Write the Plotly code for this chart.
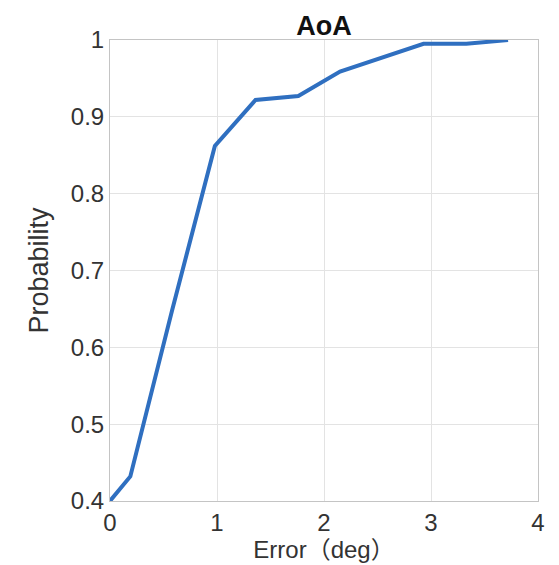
import plotly.graph_objects as go

error_deg = [0.0, 0.19, 0.58, 0.98, 1.36, 1.76, 2.15, 2.54, 2.93, 3.33, 3.72]
probability = [0.40, 0.432, 0.648, 0.862, 0.922, 0.927, 0.959, 0.977, 0.995, 0.995, 1.0]

x_ticks = [0, 1, 2, 3, 4]
y_ticks = [0.4, 0.5, 0.6, 0.7, 0.8, 0.9, 1.0]
y_tick_text = ["0.4", "0.5", "0.6", "0.7", "0.8", "0.9", "1"]

FONT = "Liberation Sans, Arial, Helvetica, sans-serif"

fig = go.Figure()
fig.add_trace(go.Scatter(x=error_deg, y=probability, mode="lines",
                         line=dict(color="#2f6fc0", width=4), showlegend=False))

axis_common = dict(showgrid=True, gridcolor="#e3e3e3", gridwidth=1,
                   showline=True, linecolor="#c4c4c4", linewidth=1, mirror=True,
                   zeroline=False, ticks="",
                   tickfont=dict(size=24, color="#333333", family=FONT))

fig.update_layout(
    width=559, height=565,
    margin=dict(l=110, r=21, t=40, b=62),
    paper_bgcolor="white", plot_bgcolor="white",
    title=dict(text="<b>AoA</b>", x=0.5, xanchor="center", xref="paper",
               y=1, yref="paper", yanchor="bottom", pad=dict(b=5),
               font=dict(size=27, color="#111111", family=FONT)),
    xaxis=dict(range=[0, 4], tickvals=x_ticks, **axis_common,
               title=dict(text="Error（deg）", standoff=0,
                          font=dict(size=24, color="#333333",
                                    family="Liberation Sans, Noto Sans CJK SC, sans-serif"))),
    yaxis=dict(range=[0.4, 1.0], tickvals=y_ticks, ticktext=y_tick_text, **axis_common,
               title=dict(text="Probability", standoff=14,
                          font=dict(size=27, color="#333333", family=FONT))),
)

fig.write_html("out.html")
